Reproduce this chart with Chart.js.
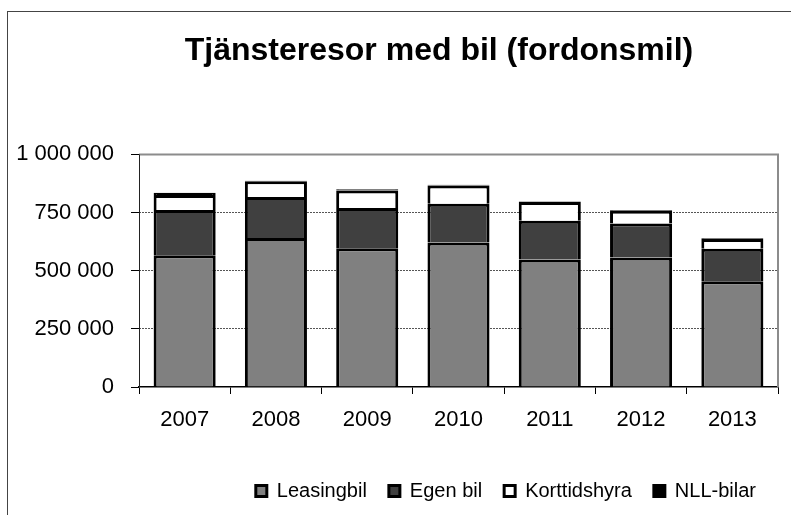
<!DOCTYPE html>
<html>
<head>
<meta charset="utf-8">
<script src="https://cdn.jsdelivr.net/npm/chart.js@4.4.1/dist/chart.umd.min.js"></script>
<style>
  html, body { margin: 0; padding: 0; background: #fff; }
  #wrap { width: 791px; height: 515px; }
</style>
</head>
<body>
<div id="wrap"><canvas id="chart" width="791" height="515"></canvas></div>
<script>
/* ---- data ---- */
const years = ["2007", "2008", "2009", "2010", "2011", "2012", "2013"];
const leasingbil = [566000, 641000, 597000, 621000, 548000, 557000, 455000];
const egenBil = [195000, 176000, 173000, 167000, 167000, 146000, 139000];
const korttidshyra = [64000, 68000, 75000, 78000, 80000, 55000, 42000];
const nllBilar = [10000, 2000, 5000, 4000, 3000, 3000, 3000];
const yTicks = [0, 250000, 500000, 750000, 1000000];

const FONT = "'Liberation Sans', Arial, sans-serif";

function formatNumber(v) {
  return String(v).replace(/\B(?=(\d{3})+(?!\d))/g, " ");
}

/* ramar: yttre kant + diagramytans kant */
const framePlugin = {
  id: "frame",
  afterLayout(chart) {
    // y-skalans etiketter får rita utanför vänster-paddingen
    chart.scales.y.left = 0;
  },
  beforeDraw(chart) {
    const ctx = chart.ctx;
    ctx.save();
    ctx.strokeStyle = "#444";
    ctx.lineWidth = 1;
    ctx.strokeRect(7.5, 11.5, 900, 600);
    ctx.restore();
  },
  beforeDatasetsDraw(chart) {
    const { ctx, chartArea: a } = chart;
    ctx.save();
    ctx.strokeStyle = "#8c8c8c";
    ctx.lineWidth = 2;
    ctx.beginPath();
    ctx.moveTo(a.left, a.top);
    ctx.lineTo(a.right, a.top);
    ctx.lineTo(a.right, a.bottom);
    ctx.stroke();
    ctx.restore();
  },
  afterDatasetsDraw(chart) {
    const { ctx, chartArea: a } = chart;
    ctx.save();
    ctx.strokeStyle = "#222";
    ctx.lineWidth = 1;
    ctx.beginPath();
    ctx.moveTo(a.left + 0.5, a.top);
    ctx.lineTo(a.left + 0.5, a.bottom);
    ctx.stroke();
    ctx.restore();
  }
};

const barStyle = {
  borderColor: "#000",
  borderWidth: 3,
  barPercentage: 0.68,
  categoryPercentage: 1
};

new Chart(document.getElementById("chart"), {
  type: "bar",
  data: {
    labels: years,
    datasets: [
      { label: "Leasingbil", data: leasingbil, backgroundColor: "#808080", ...barStyle },
      { label: "Egen bil", data: egenBil, backgroundColor: "#404040", ...barStyle },
      { label: "Korttidshyra", data: korttidshyra, backgroundColor: "#ffffff", ...barStyle },
      { label: "NLL-bilar", data: nllBilar, backgroundColor: "#000000", ...barStyle }
    ]
  },
  options: {
    responsive: false,
    animation: false,
    // vänster-padding förskjuter titeln åt höger som i originalet
    layout: { padding: { left: 100, right: 13, top: 0, bottom: 4 } },
    plugins: {
      title: {
        display: true,
        text: "Tjänsteresor med bil (fordonsmil)",
        color: "#000",
        font: { family: FONT, size: 32, weight: "bold" },
        padding: { top: 32, bottom: 84 }
      },
      legend: {
        position: "bottom",
        align: "end",
        labels: {
          color: "#000",
          font: { family: FONT, size: 20 },
          boxWidth: 11,
          boxHeight: 11,
          padding: 22
        }
      },
      tooltip: { enabled: false }
    },
    scales: {
      x: {
        stacked: true,
        grid: {
          offset: true,
          drawOnChartArea: false,
          tickLength: 7,
          tickColor: "#000"
        },
        border: { display: true, color: "#000", width: 1.5 },
        ticks: {
          color: "#000",
          font: { family: FONT, size: 22 },
          padding: 13
        },
        afterFit(scale) { scale.height = 72; }
      },
      y: {
        stacked: true,
        min: 0,
        max: 1000000,
        afterBuildTicks(scale) {
          scale.ticks = yTicks.map(v => ({ value: v }));
        },
        grid: {
          color: (c) => (c.tick && c.tick.value > 0 && c.tick.value < 1000000) ? "#555" : "rgba(0,0,0,0)",
          lineWidth: 1,
          tickLength: 8,
          tickColor: "#000"
        },
        border: { display: false, dash: [2, 1] },
        ticks: {
          color: "#000",
          font: { family: FONT, size: 22 },
          padding: 17,
          callback: (v) => formatNumber(v)
        },
        afterFit(scale) { scale.width = 39; }
      }
    }
  },
  plugins: [framePlugin]
});
</script>
</body>
</html>
